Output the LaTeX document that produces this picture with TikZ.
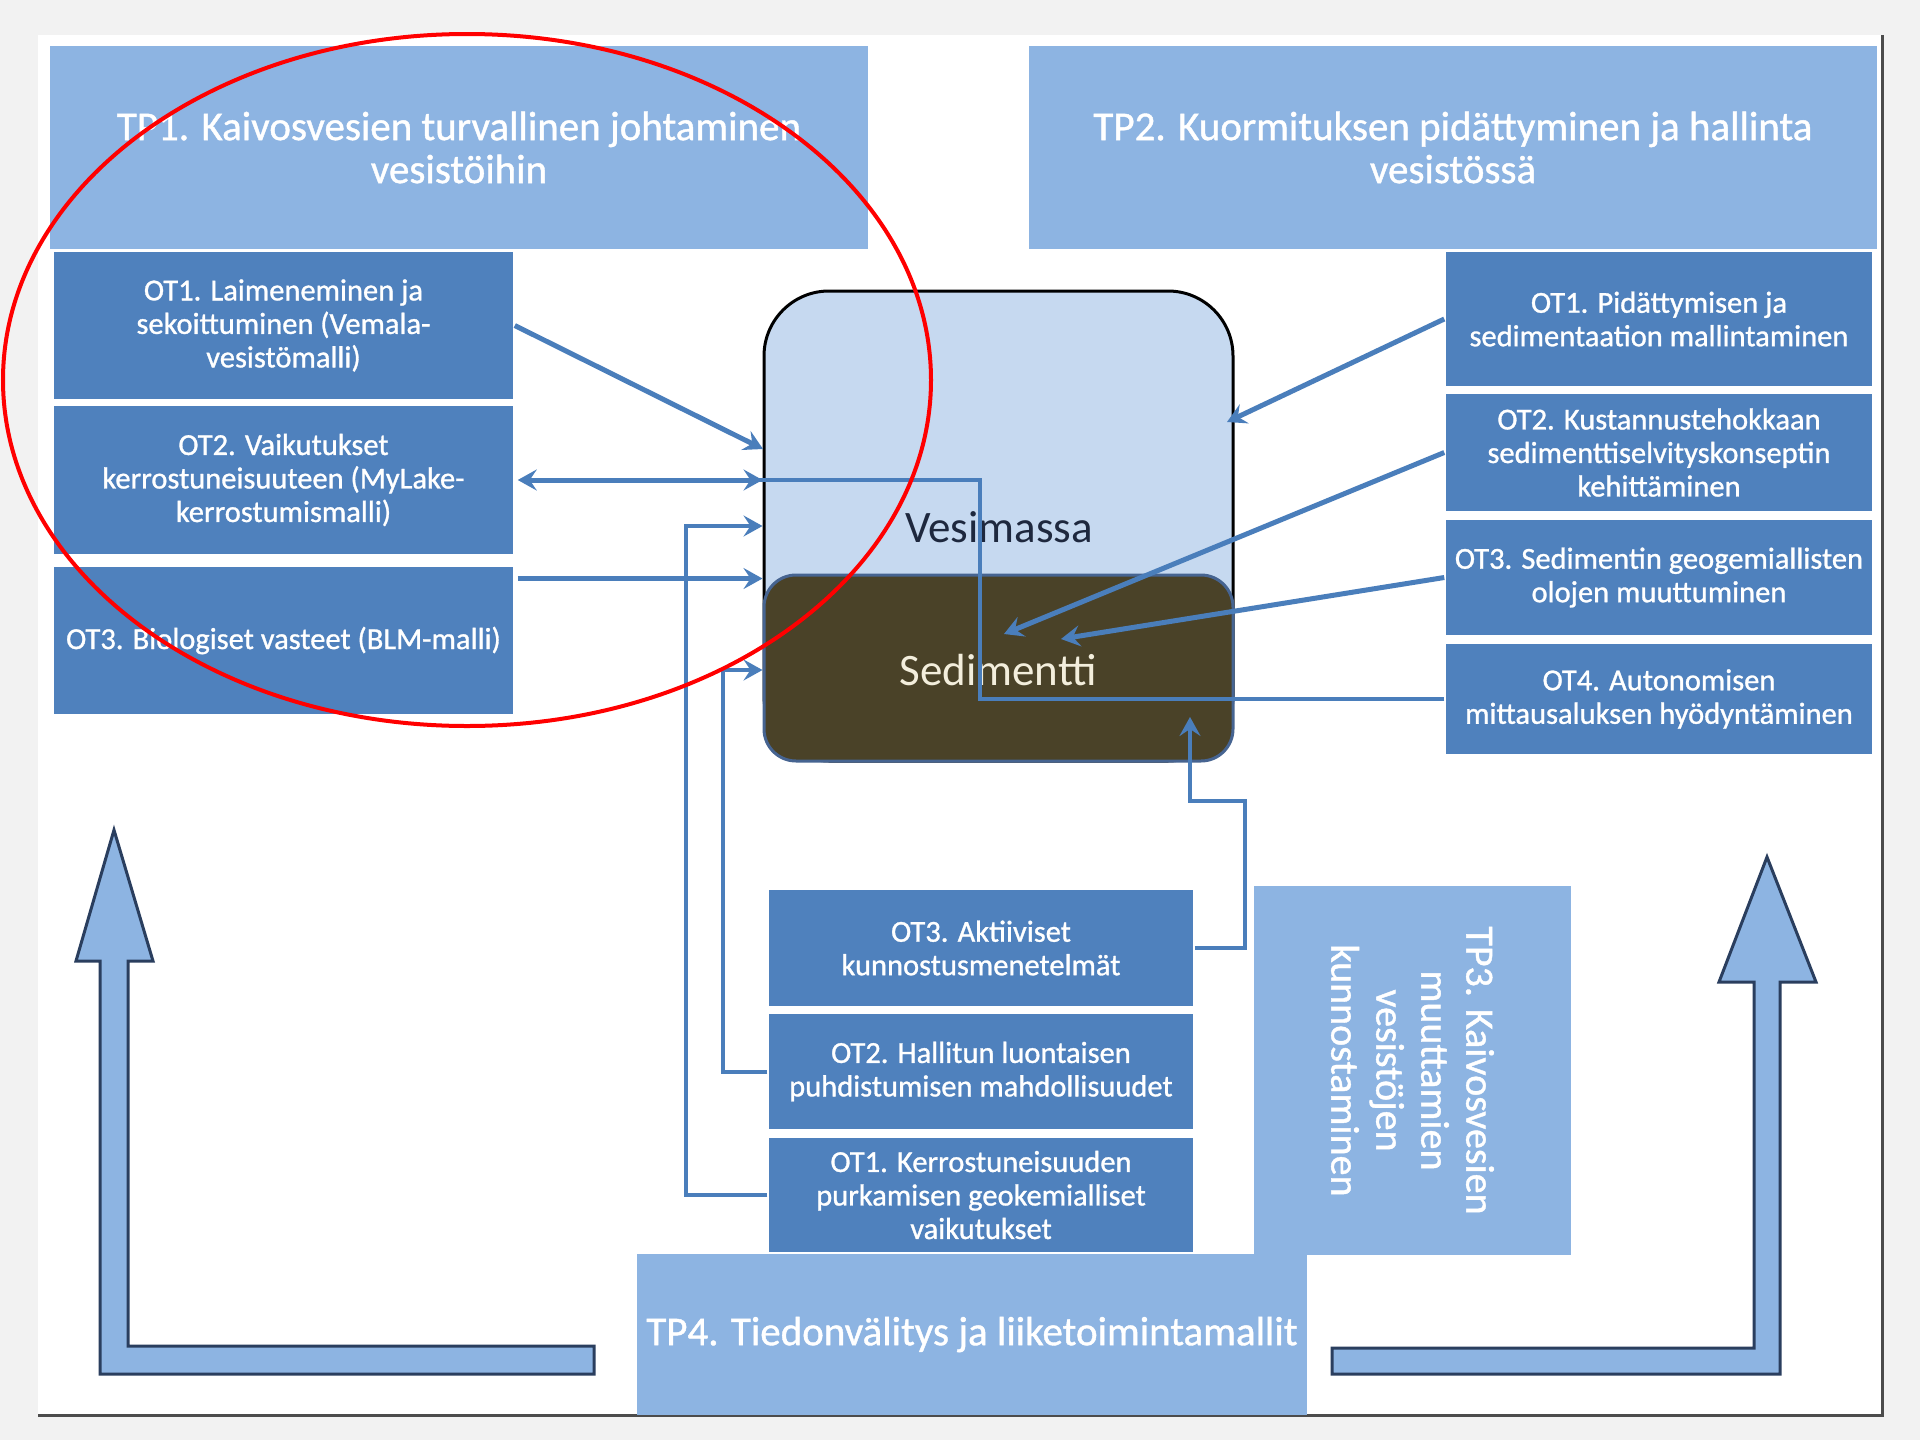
\documentclass[tikz,border=0pt]{standalone}
\usepackage{fontspec}
\setmainfont{Carlito}
\newfontfamily\boxfont[FakeBold=1.0]{Carlito}
\usetikzlibrary{arrows.meta}
\definecolor{tpblue}{RGB}{141,180,226}
\definecolor{otblue}{RGB}{79,129,189}
\definecolor{arrblue}{RGB}{74,126,187}
\definecolor{waterc}{RGB}{198,217,240}
\definecolor{sedc}{RGB}{74,66,40}
\definecolor{sedline}{RGB}{70,100,145}
\definecolor{navy}{RGB}{42,62,94}
\definecolor{bggray}{RGB}{242,242,242}
\definecolor{vtext}{RGB}{30,40,62}
\definecolor{stext}{RGB}{243,238,220}
\begin{document}
\begin{tikzpicture}[x=1pt,y=-1pt,
  tpbox/.style={fill=tpblue, draw=none, text=white, inner sep=0pt, align=center,
    font=\boxfont\fontsize{41}{43}\selectfont},
  otbox/.style={fill=otblue, draw=white, line width=1.5pt, text=white, inner sep=0pt, align=center,
    font=\boxfont\fontsize{30.5}{33.5}\selectfont},
  arr/.style={draw=arrblue, line width=5pt, -{Stealth[length=19pt,width=21pt,inset=7pt]}},
  darr/.style={draw=arrblue, line width=5pt, {Stealth[length=19pt,width=21pt,inset=7pt]}-{Stealth[length=19pt,width=21pt,inset=7pt]}},
  rarr/.style={draw=arrblue, line width=4pt, -{Stealth[length=19pt,width=21pt,inset=7pt]}},
  ln/.style={draw=arrblue, line width=4pt},
  bigarrow/.style={fill=tpblue, draw=navy, line width=3pt, line join=miter}
]
\useasboundingbox (0,0) rectangle (1920,1440);
\fill[bggray] (0,0) rectangle (1920,1440);
\fill[white] (38,35) rectangle (1882,1415);
\draw[gray!60!black, line width=3pt] (1882,35) -- (1882,1415) -- (38,1415);

% top boxes
\node[tpbox, minimum width=818pt, minimum height=203pt] (tp1) at (459,147.5)
  {TP1. Kaivosvesien turvallinen johtaminen\\vesistöihin};
\node[tpbox, minimum width=848pt, minimum height=203pt] (tp2) at (1453,147.5)
  {TP2. Kuormituksen pidättyminen ja hallinta\\vesistössä};

% left OT boxes
\node[otbox, minimum width=461pt, minimum height=149pt] (lot1) at (283.5,325.5)
  {OT1. Laimeneminen ja\\sekoittuminen (Vemala-\\vesistömalli)};
\node[otbox, minimum width=461pt, minimum height=150pt] (lot2) at (283.5,480)
  {OT2. Vaikutukset\\kerrostuneisuuteen (MyLake-\\kerrostumismalli)};
\node[otbox, minimum width=461pt, minimum height=149pt] (lot3) at (283.5,640.5)
  {OT3. Biologiset vasteet (BLM-malli)};

% right OT boxes
\node[otbox, minimum width=428pt, minimum height=136pt] (rot1) at (1659,319)
  {OT1. Pidättymisen ja\\sedimentaation mallintaminen};
\node[otbox, minimum width=428pt, minimum height=119pt] (rot2) at (1659,452.5)
  {OT2. Kustannustehokkaan\\sedimenttiselvityskonseptin\\kehittäminen};
\node[otbox, minimum width=428pt, minimum height=117pt] (rot3) at (1659,577.5)
  {OT3. Sedimentin geogemiallisten\\olojen muuttuminen};
\node[otbox, minimum width=428pt, minimum height=112pt] (rot4) at (1659,699)
  {OT4. Autonomisen\\mittausaluksen hyödyntäminen};

% bottom OT boxes
\node[otbox, minimum width=426pt, minimum height=118pt] (bot3) at (981,948)
  {OT3. Aktiiviset\\kunnostusmenetelmät};
\node[otbox, minimum width=426pt, minimum height=117pt] (bot2) at (981,1071.5)
  {OT2. Hallitun luontaisen\\puhdistumisen mahdollisuudet};
\node[otbox, minimum width=426pt, minimum height=116pt] (bot1) at (981,1195)
  {OT1. Kerrostuneisuuden\\purkamisen geokemialliset\\vaikutukset};

% TP3 and TP4
\node[tpbox, rotate=-90, minimum width=369pt, minimum height=317pt,
  font=\boxfont\fontsize{40}{45}\selectfont] (tp3) at (1412.5,1070.5)
  {TP3. Kaivosvesien\\muuttamien\\vesistöjen\\kunnostaminen};
\node[tpbox, minimum width=670pt, minimum height=161pt] (tp4) at (972,1334.5)
  {TP4. Tiedonvälitys ja liiketoimintamallit};

% central water body
\node[fill=waterc, draw=black, line width=3pt, rounded corners=65pt, inner sep=0pt,
  minimum width=469pt, minimum height=470pt] (water) at (998.5,526) {};
\node[fill=sedc, draw=sedline, line width=3pt, rounded corners=32pt, inner sep=0pt,
  minimum width=469pt, minimum height=186pt] (sed) at (998.5,668) {};
\node[text=vtext, font=\fontsize{45}{50}\selectfont, inner sep=0pt] (vlabel) at (999,527) {Vesimassa};
\node[text=stext, font=\fontsize{45}{50}\selectfont, inner sep=0pt] (slabel) at (998,670) {Sedimentti};

% helper coordinates
\coordinate (w1) at (763,449);
\coordinate (j3) at (686,526);
\coordinate (j5) at (723,670);
\coordinate (w6) at (1227,422);
\coordinate (w7) at (1004,634);
\coordinate (w8) at (1061,639);
\coordinate (j9) at (980,480);
\coordinate (j10a) at (1245,801);
\coordinate (j10b) at (1190,717);

% connectors
\draw[ln, shorten >=14pt] (rot4.west) -| (j9) -- (lot2.east);
\draw[arr] (lot1.east) -- (w1);
\draw[darr] ([xshift=3pt]lot2.east) -- (water.west |- lot2.east);
\draw[rarr] (bot1.west) -| (j3) -- (water.west |- j3);
\draw[arr] ([xshift=3pt]lot3.15) -- (water.west |- lot3.15);
\draw[rarr] (bot2.west) -| (j5) -- (water.west |- j5);
\draw[arr] (rot1.west) -- (w6);
\draw[arr] (rot2.west) -- (w7);
\draw[arr] (rot3.west) -- (w8);
\draw[rarr] (bot3.east) -| (j10a) -| (j10b);

% big hollow arrows
\draw[bigarrow] (100,961) -- (76,961) -- (114,830) -- (153,961) -- (128,961)
  -- (128,1346) -- (594,1346) -- (594,1374) -- (100,1374) -- cycle;
\draw[bigarrow] (1332,1348) -- (1754,1348) -- (1754,982) -- (1719,982) -- (1767,857)
  -- (1816,982) -- (1780,982) -- (1780,1374) -- (1332,1374) -- cycle;

% red ellipse
\draw[red, line width=4pt] (467,380) ellipse [x radius=464pt, y radius=346pt];
\end{tikzpicture}
\end{document}
